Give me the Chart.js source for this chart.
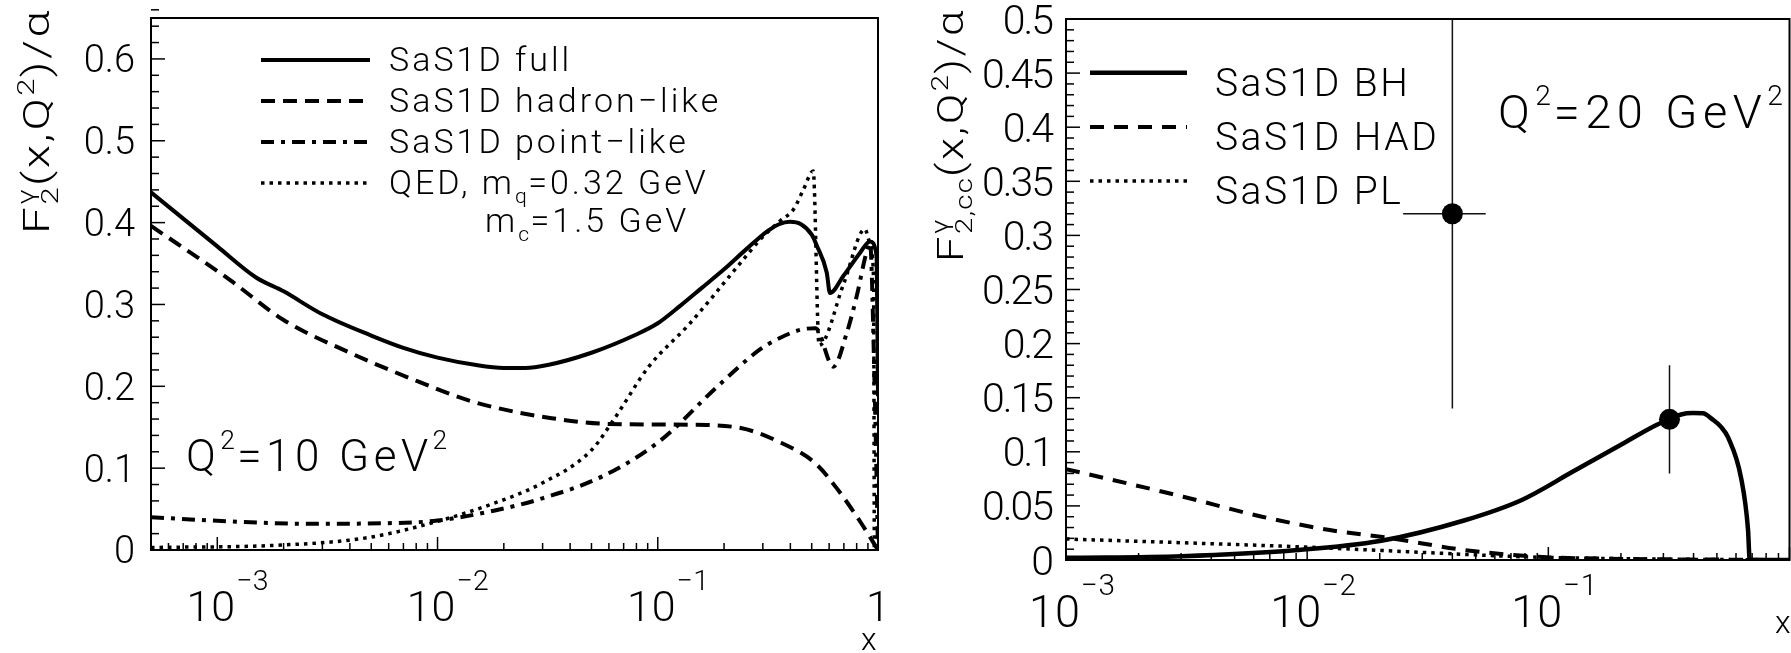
<!DOCTYPE html>
<html>
<head>
<meta charset="utf-8">
<script src="https://cdn.jsdelivr.net/npm/chart.js@4.4.1/dist/chart.umd.min.js"></script>
<style>
  html, body { margin: 0; padding: 0; background: #fff; overflow: hidden; }
  #wrap { position: relative; width: 1791px; height: 653px; overflow: hidden; }
  #c1 { position: absolute; left: 0; top: 0; }
  #c2 { position: absolute; left: 900px; top: 0; }
</style>
</head>
<body>
<div id="wrap">
  <canvas id="c1" width="900" height="653"></canvas>
  <canvas id="c2" width="900" height="653"></canvas>
</div>
<script>
// ---- left panel: F2 photon / alpha at Q2 = 10 GeV2 ----
const xFull = [5e-4, 1e-3, 1.5e-3, 2e-3, 3e-3, 5e-3, 7e-3, 1e-2, 1.5e-2, 2e-2, 2.5e-2, 3.16e-2, 5e-2, 7.94e-2, 0.1, 0.126, 0.158, 0.2, 0.251, 0.316, 0.355, 0.398, 0.447, 0.501, 0.527, 0.585, 0.605, 0.697, 0.828, 0.92, 0.986, 1.0];
const yFull = [0.437, 0.371, 0.333, 0.316, 0.288, 0.262, 0.247, 0.235, 0.226, 0.2225, 0.2224, 0.226, 0.241, 0.263, 0.277, 0.298, 0.320, 0.343, 0.367, 0.390, 0.398, 0.401, 0.398, 0.385, 0.372, 0.339, 0.314, 0.335, 0.363, 0.377, 0.359, 0.188];

const xHad = [5e-4, 1.14e-3, 2e-3, 4e-3, 7.8e-3, 1.34e-2, 1.9e-2, 3.3e-2, 6e-2, 0.139, 0.238, 0.363, 0.519, 0.66, 0.838, 1.0];
const yHad = [0.396, 0.330, 0.281, 0.241, 0.208, 0.184, 0.173, 0.161, 0.154, 0.153, 0.149, 0.131, 0.106, 0.073, 0.033, 0.0];

const xPoint = [5e-4, 1.14e-3, 2.5e-3, 6.5e-3, 1e-2, 1.8e-2, 2.9e-2, 5.6e-2, 0.102, 0.187, 0.291, 0.346, 0.443, 0.52, 0.627, 0.721, 0.80, 0.889, 0.92, 0.965, 1.0];
const yPoint = [0.040, 0.035, 0.032, 0.033, 0.036, 0.048, 0.062, 0.090, 0.133, 0.200, 0.245, 0.257, 0.269, 0.271, 0.224, 0.265, 0.310, 0.365, 0.375, 0.20, 0.0];

const xQed = [5e-4, 1.95e-3, 4.8e-3, 1e-2, 1.8e-2, 2.9e-2, 5e-2, 6.3e-2, 9.1e-2, 0.139, 0.238, 0.291, 0.359, 0.413, 0.458, 0.508, 0.54, 0.70, 0.873, 0.92, 0.955, 0.962];
const yQed = [0.003, 0.006, 0.015, 0.035, 0.057, 0.080, 0.122, 0.159, 0.224, 0.276, 0.351, 0.379, 0.402, 0.416, 0.44, 0.463, 0.25, 0.326, 0.392, 0.375, 0.33, 0.0];

const leftNames = ['SaS1D full', 'SaS1D hadron\u2212like', 'SaS1D point\u2212like', 'QED, m_{q}=0.32 GeV'];
const leftNote2 = 'm_{c}=1.5 GeV';
const leftQ2 = 'Q^{2}=10 GeV^{2}';
const leftYTicks = [0, 0.1, 0.2, 0.3, 0.4, 0.5, 0.6];
const leftYLabels = ['0', '0.1', '0.2', '0.3', '0.4', '0.5', '0.6'];
const leftXTicks = [1e-3, 1e-2, 1e-1, 1];
const leftXLabels = ['10^{\u22123}', '10^{\u22122}', '10^{\u22121}', '1'];

// ---- right panel: charm part F2,cc at Q2 = 20 GeV2 ----
const xBH = [1e-3, 3.02e-3, 8.9e-3, 2e-2, 4.47e-2, 7.76e-2, 0.126, 0.2, 0.282, 0.318, 0.355, 0.398, 0.437, 0.479, 0.52, 0.557, 0.631, 0.673, 0.684, 1.0];
const yBH = [0.002, 0.0035, 0.009, 0.0175, 0.0365, 0.0555, 0.0815, 0.1065, 0.125, 0.130, 0.1345, 0.1358, 0.1356, 0.130, 0.123, 0.113, 0.075, 0.028, 0.0, 0.0];

const xHad2 = [1e-3, 1.78e-3, 3.06e-3, 6.5e-3, 1.24e-2, 2.24e-2, 4.5e-2, 9.1e-2, 0.2, 0.4, 1.0];
const yHad2 = [0.084, 0.071, 0.0585, 0.040, 0.0277, 0.020, 0.0092, 0.003, 0.001, 0.0005, 0.0];

const xPl2 = [1e-3, 3e-3, 9e-3, 2.6e-2, 7.8e-2, 0.25, 1.0];
const yPl2 = [0.0194, 0.016, 0.0123, 0.0077, 0.003, 0.001, 0.0];

// measured points with errors
const dataX = [0.04, 0.318];
const dataY = [0.32, 0.13];
const dataErr = [0.18, 0.05];
const dataXLo = [0.025, 0.318];
const dataXHi = [0.055, 0.318];

const rightNames = ['SaS1D BH', 'SaS1D HAD', 'SaS1D PL'];
const rightQ2 = 'Q^{2}=20 GeV^{2}';
const rightYTicks = [0, 0.05, 0.1, 0.15, 0.2, 0.25, 0.3, 0.35, 0.4, 0.45, 0.5];
const rightYLabels = ['0', '0.05', '0.1', '0.15', '0.2', '0.25', '0.3', '0.35', '0.4', '0.45', '0.5'];
const rightXTicks = [1e-3, 1e-2, 1e-1];
const rightXLabels = ['10^{\u22123}', '10^{\u22122}', '10^{\u22121}'];

const FONT = 'Roboto, "Liberation Sans", sans-serif';

function pts(xs, ys) { return xs.map((x, i) => ({ x: x, y: ys[i] })); }

// text with _{..} and ^{..} pieces
function parseRich(s) {
  const parts = [];
  const re = /([_^])\{([^}]*)\}|([^_^]+)/g;
  let m;
  while ((m = re.exec(s))) {
    if (m[3]) parts.push({ t: m[3], s: 0 });
    else parts.push({ t: m[2], s: m[1] === '^' ? 1 : -1 });
  }
  return parts;
}

function drawRich(ctx, str, x, y, size, o) {
  o = Object.assign({ sp: 0, scale: 0.65, rise: 0.45, drop: 0.22, measure: false }, o || {});
  let cx = x, prevS = 0, sx = x, sw = 0;
  for (const p of parseRich(str)) {
    const fs = p.s ? size * o.scale : size;
    ctx.font = '300 ' + fs + 'px ' + FONT;
    ctx.letterSpacing = (p.s ? o.sp * 0.5 : o.sp) + 'px';
    const w = ctx.measureText(p.t).width;
    let px;
    if (p.s && prevS && prevS !== p.s) {
      px = sx; cx = sx + Math.max(sw, w);
    } else {
      px = cx; sx = cx; sw = w; cx += w;
    }
    const dy = p.s > 0 ? -size * o.rise : p.s < 0 ? size * o.drop : 0;
    if (!o.measure) ctx.fillText(p.t, px, y + dy);
    prevS = p.s;
  }
  ctx.letterSpacing = '0px';
  return cx - x;
}

function line(ctx, x1, y1, x2, y2) {
  ctx.beginPath(); ctx.moveTo(x1, y1); ctx.lineTo(x2, y2); ctx.stroke();
}

// frame, inward ticks, labels, legend and notes
const decor = {
  id: 'decor',
  beforeDatasetsDraw(chart, args, o) {
    if (!o.errors) return;
    const { ctx, chartArea: a, scales: { x, y } } = chart;
    ctx.save();
    ctx.beginPath(); ctx.rect(a.left, a.top, a.right - a.left, a.bottom - a.top); ctx.clip();
    ctx.strokeStyle = '#111'; ctx.lineWidth = 1.5;
    dataX.forEach((v, i) => {
      const px = x.getPixelForValue(v);
      line(ctx, px, y.getPixelForValue(dataY[i] - dataErr[i]), px, y.getPixelForValue(dataY[i] + dataErr[i]));
      const py = y.getPixelForValue(dataY[i]);
      line(ctx, x.getPixelForValue(dataXLo[i]), py, x.getPixelForValue(dataXHi[i]), py);
    });
    ctx.restore();
  },
  afterDraw(chart, args, o) {
    const { ctx, chartArea: a, scales: { x, y } } = chart;
    ctx.save();
    ctx.strokeStyle = '#000'; ctx.fillStyle = '#000';

    // ticks along x
    ctx.lineWidth = 1.5;
    for (let e = Math.floor(Math.log10(x.min)); e <= 0; e++) {
      for (let k = 1; k <= 9; k++) {
        const v = k * Math.pow(10, e);
        if (v < x.min * 0.999 || v > x.max * 1.001) continue;
        const px = x.getPixelForValue(v);
        line(ctx, px, a.bottom, px, a.bottom - (k === 1 ? 13 : 7));
      }
    }
    // ticks along y
    const n = Math.round(y.max / o.yMinor);
    for (let i = 0; i <= n; i++) {
      const v = i * o.yMinor;
      const major = Math.abs(v / o.yMajor - Math.round(v / o.yMajor)) < 1e-6;
      const py = y.getPixelForValue(v);
      line(ctx, a.left, py, a.left + (major ? 14 : 8), py);
    }

    // frame
    ctx.lineWidth = 2;
    ctx.strokeRect(a.left, a.top, a.right - a.left, a.bottom - a.top);

    // y tick labels
    ctx.textAlign = 'right';
    ctx.font = '300 ' + o.yFont + 'px ' + FONT;
    ctx.letterSpacing = o.ySp + 'px';
    o.yTicks.forEach((v, i) => {
      ctx.fillText(o.yLabels[i], a.left - o.yGap, y.getPixelForValue(v) + o.yFont * 0.355);
    });
    ctx.letterSpacing = '0px';
    ctx.textAlign = 'left';

    // x tick labels
    o.xTicks.forEach((v, i) => {
      const px = x.getPixelForValue(v);
      const lab = o.xLabels[i];
      ctx.font = '300 ' + o.xFont + 'px ' + FONT;
      if (lab.indexOf('^') < 0) {
        const w = ctx.measureText(lab).width;
        ctx.fillText(lab, px - w / 2, a.bottom + o.xBase);
      } else {
        const wb = ctx.measureText('10').width;
        drawRich(ctx, lab, px - wb / 2 - o.xShift, a.bottom + o.xBase, o.xFont, { scale: 0.66, rise: 0.72, sp: 1 });
      }
    });

    // axis titles
    ctx.font = '300 ' + o.xTitleFont + 'px ' + FONT;
    ctx.fillText('x', o.xTitle[0], o.xTitle[1]);
    ctx.save();
    ctx.translate(o.yTitle[0], o.yTitle[1]);
    ctx.rotate(-Math.PI / 2);
    const ro = { sp: o.yTitleSp, scale: 0.65, rise: 0.42, drop: 0.25 };
    const tw = drawRich(ctx, o.yTitleText, 0, 0, o.yTitleFont, Object.assign({ measure: true }, ro));
    ctx.scale(o.yTitle[2] / tw, 1);   // stretch along the axis to the given length
    drawRich(ctx, o.yTitleText, 0, 0, o.yTitleFont, ro);
    ctx.restore();

    // legend, drawn from the datasets' own line styles
    const L = o.legend;
    L.names.forEach((name, i) => {
      const ds = chart.data.datasets[i];
      const ly = L.y0 + i * L.dy;
      ctx.save();
      ctx.lineWidth = ds.borderWidth;
      ctx.setLineDash(ds.borderDash || []);
      line(ctx, L.x0, ly, L.x1, ly);
      ctx.restore();
      drawRich(ctx, name, L.tx, ly + L.base, L.font, { sp: L.sp, scale: 0.62, drop: 0.25 });
    });
    if (L.extra) {
      drawRich(ctx, L.extra, L.extraX, L.y0 + (L.names.length - 1) * L.dy + L.base + L.extraDy, L.font, { sp: L.sp, scale: 0.62, drop: 0.25 });
    }

    // Q2 note
    drawRich(ctx, o.note, o.noteAt[0], o.noteAt[1], o.noteFont, { sp: o.noteSp, scale: 0.6, rise: 0.5 });
    ctx.restore();
  }
};

function curve(label, data, width, dash) {
  return {
    label: label, data: data, borderColor: '#000', backgroundColor: '#000',
    borderWidth: width, borderDash: dash, borderCapStyle: 'butt',
    pointRadius: 0, cubicInterpolationMode: 'monotone', fill: false
  };
}

function baseOptions(xmin, ymax, pad, deco) {
  return {
    responsive: false, animation: false,
    layout: { padding: pad },
    scales: {
      x: { type: 'logarithmic', min: xmin, max: 1, display: false },
      y: { type: 'linear', min: 0, max: ymax, display: false }
    },
    plugins: { legend: { display: false }, tooltip: { enabled: false }, decor: deco }
  };
}

new Chart(document.getElementById('c1'), {
  type: 'line',
  data: {
    datasets: [
      curve(leftNames[0], pts(xFull, yFull), 4, []),
      curve(leftNames[1], pts(xHad, yHad), 4, [14, 8]),
      curve(leftNames[2], pts(xPoint, yPoint), 4, [13, 7, 4, 7]),
      curve(leftNames[3], pts(xQed, yQed), 3.5, [3.5, 5])
    ]
  },
  options: baseOptions(5e-4, 0.65, { left: 151, right: 22, top: 18, bottom: 103 }, {
    yMinor: 0.02, yMajor: 0.1,
    yTicks: leftYTicks, yLabels: leftYLabels, yFont: 38, ySp: 0, yGap: 16,
    xTicks: leftXTicks, xLabels: leftXLabels, xFont: 43, xBase: 71, xShift: 7,
    xTitleFont: 32, xTitle: [861, 650],
    yTitleText: 'F_{2}^{\u03b3}(x,Q^{2})/\u03b1', yTitleFont: 36, yTitleSp: 2, yTitle: [49, 234, 226],
    legend: { names: leftNames, x0: 261, x1: 370, y0: 60, dy: 41, tx: 389, base: 11, font: 34, sp: 3,
      extra: leftNote2, extraX: 485, extraDy: 38 },
    note: leftQ2, noteAt: [186, 471], noteFont: 44, noteSp: 4.5
  }),
  plugins: [decor]
});

new Chart(document.getElementById('c2'), {
  type: 'line',
  data: {
    datasets: [
      curve(rightNames[0], pts(xBH, yBH), 4.5, []),
      curve(rightNames[1], pts(xHad2, yHad2), 4, [14, 10]),
      curve(rightNames[2], pts(xPl2, yPl2), 3.5, [3.5, 5]),
      {
        label: 'data', data: pts(dataX, dataY), showLine: false,
        pointRadius: 10.5, pointBackgroundColor: '#000', pointBorderColor: '#000', pointBorderWidth: 0
      }
    ]
  },
  options: baseOptions(1e-3, 0.5, { left: 166, right: 5, top: 19, bottom: 93 }, {
    errors: true,
    yMinor: 0.01, yMajor: 0.05,
    yTicks: rightYTicks, yLabels: rightYLabels, yFont: 41, ySp: -2, yGap: 14,
    xTicks: rightXTicks, xLabels: rightXLabels, xFont: 45, xBase: 67, xShift: 12,
    xTitleFont: 32, xTitle: [875, 633],
    yTitleText: 'F^{\u03b3}_{2,cc}(x,Q^{2})/\u03b1', yTitleFont: 36, yTitleSp: 2, yTitle: [63, 262, 254],
    legend: { names: rightNames, x0: 190, x1: 287, y0: 72.7, dy: 54.2, tx: 315, base: 23, font: 39, sp: 2.5 },
    note: rightQ2, noteAt: [598, 128], noteFont: 47, noteSp: 5.5
  }),
  plugins: [decor]
});
</script>
</body>
</html>
